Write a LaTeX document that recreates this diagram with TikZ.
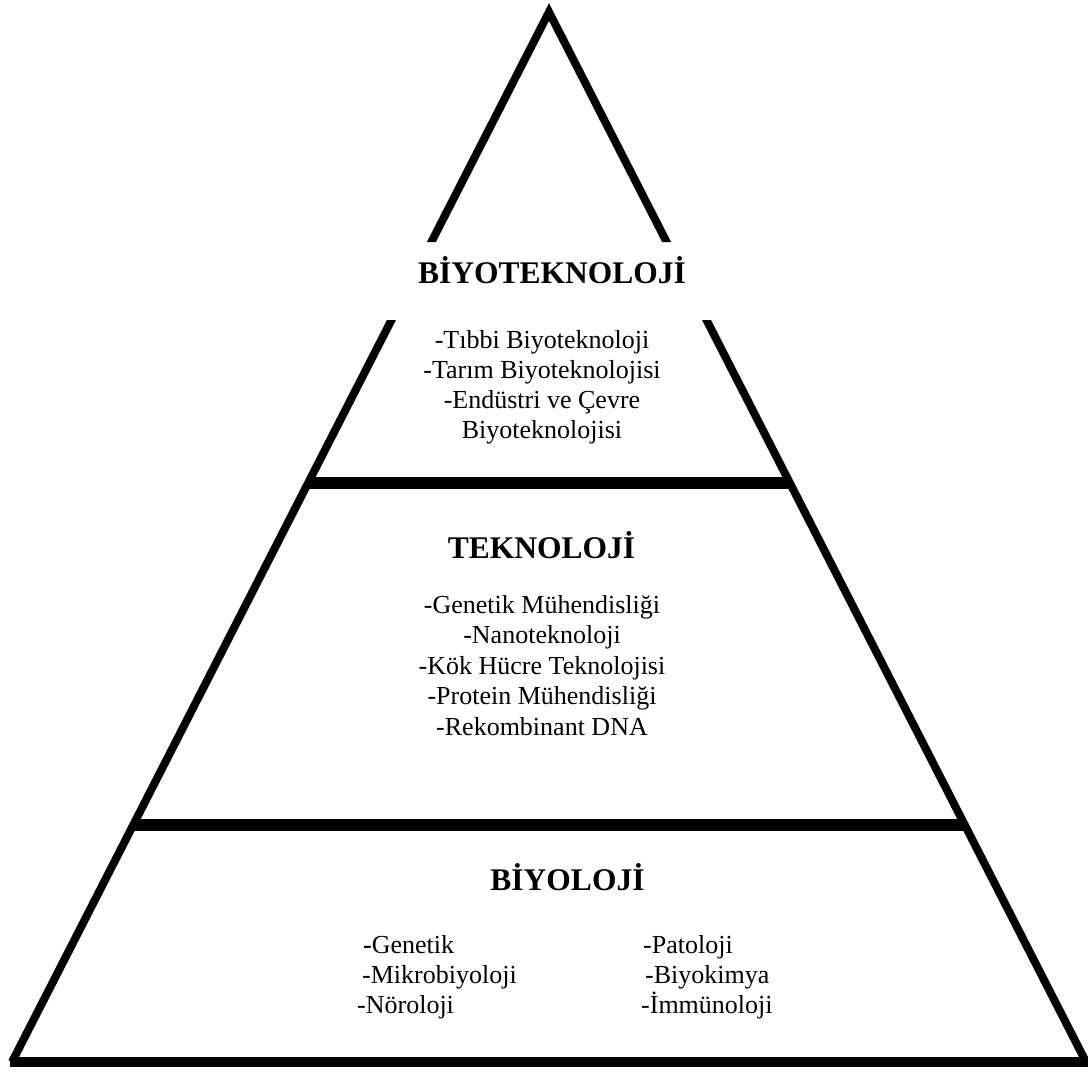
\documentclass[tikz,border=0pt]{standalone}
\usepackage{fontspec}
\setmainfont{Liberation Serif}
\begin{document}
\begin{tikzpicture}[x=1pt,y=-1pt,
  side/.style={line width=8pt, line join=miter},
  divider/.style={line width=11.5pt},
  baseline/.style={line width=10pt},
  title/.style={font=\fontsize{31.5}{36}\selectfont\bfseries, anchor=base, inner sep=0pt},
  item/.style={font=\fontsize{26}{30}\selectfont, anchor=base, inner sep=0pt},
  itemL/.style={item, anchor=base west}]
\useasboundingbox (0,0) rectangle (1088,1072);
\fill[white] (0,0) rectangle (1088,1072);
% triangle sides with a gap for the top title
\begin{scope}
  \clip (0,0) rectangle (1088,242) (0,320) rectangle (1088,1072);
  \draw[side] (12,1062) -- (549,12) -- (1086,1062);
\end{scope}
% dividers and base
\draw[divider] (307,483) -- (791,483);
\draw[divider] (132,825) -- (966,825);
\draw[baseline] (10,1062) -- (1088,1062);
% top level
\node[title] (tb) at (552,283) {BİYOTEKNOLOJİ};
\node[item] (b1) at (542,348) {-Tıbbi Biyoteknoloji};
\node[item] (b2) at (542,378) {-Tarım Biyoteknolojisi};
\node[item] (b3) at (542,408) {-Endüstri ve Çevre};
\node[item] (b4) at (542,438) {Biyoteknolojisi};
% middle level
\node[title] (tt) at (541.5,558) {TEKNOLOJİ};
\node[item] (k1) at (542,613) {-Genetik Mühendisliği};
\node[item] (k2) at (542,643.5) {-Nanoteknoloji};
\node[item] (k3) at (542,674) {-Kök Hücre Teknolojisi};
\node[item] (k4) at (542,704.5) {-Protein Mühendisliği};
\node[item] (k5) at (542,735) {-Rekombinant DNA};
% bottom level
\node[title] (tl) at (567.5,890) {BİYOLOJİ};
\node[itemL] (l1) at (363,953) {\textbf{-}Genetik};
\node[itemL] (l2) at (362,983) {-Mikrobiyoloji};
\node[itemL] (l3) at (357,1013) {-Nöroloji};
\node[itemL] (r1) at (643,953) {-Patoloji};
\node[itemL] (r2) at (645,983) {-Biyokimya};
\node[itemL] (r3) at (641,1013) {-İmmünoloji};
\end{tikzpicture}
\end{document}
